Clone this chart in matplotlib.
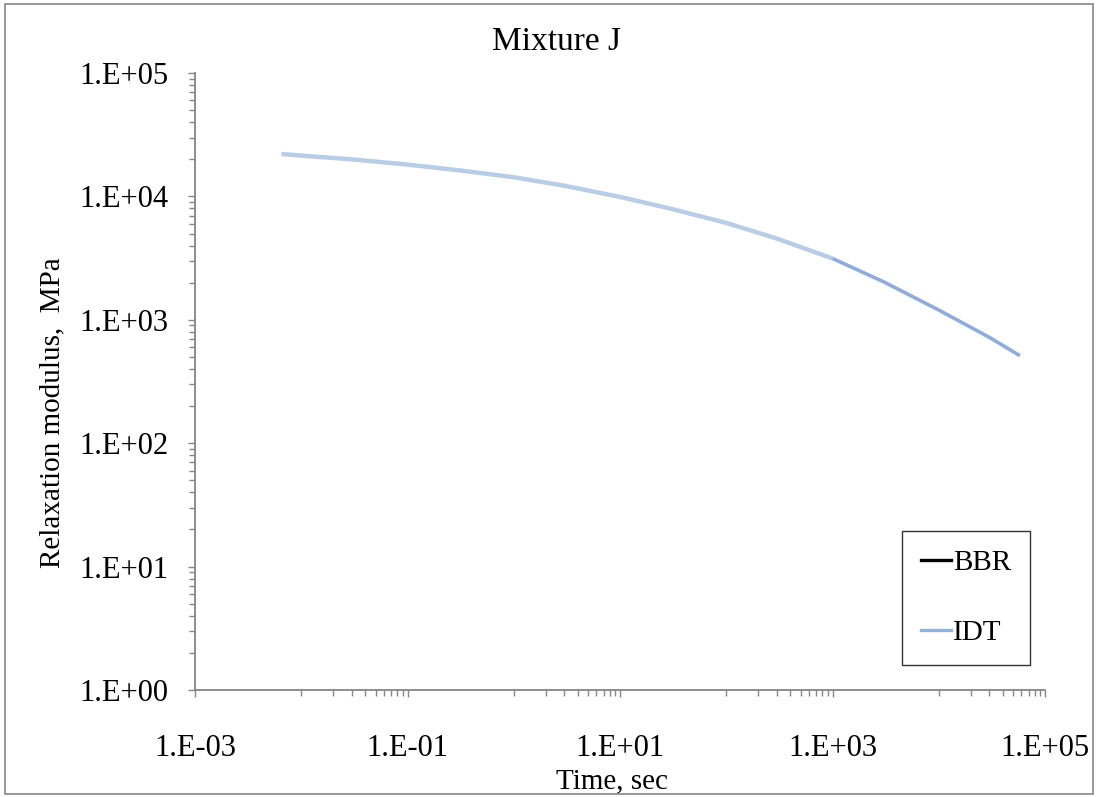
import matplotlib.pyplot as plt
from matplotlib.patches import Rectangle
from matplotlib.ticker import FixedLocator, NullFormatter, FuncFormatter
import numpy as np

# Relaxation modulus master curves, Mixture J
idt_time = [0.0065, 0.01, 0.03, 0.1, 0.3, 1, 3, 10, 30, 100, 300,
            1000, 3000, 10000, 30000, 58000]
idt_modulus = [22100, 21400, 19950, 18100, 16300, 14300, 12200, 9900,
               7950, 6100, 4550, 3140, 2040, 1200, 720, 512]

# BBR range overlaps the long-time end of the IDT curve
bbr_start = 1000

x_labels = [1e-3, 1e-1, 1e1, 1e3, 1e5]
y_labels = [1e0, 1e1, 1e2, 1e3, 1e4, 1e5]

plt.rcParams['font.family'] = ['Liberation Serif', 'DejaVu Serif']

fig = plt.figure(figsize=(10.98, 7.97), dpi=100)
ax = fig.add_axes([195 / 1098, 1 - 690 / 797, 850 / 1098, 617 / 797])

t = np.array(idt_time)
e = np.array(idt_modulus)
light = t <= bbr_start
dark = t >= bbr_start
ax.plot(t[light], e[light], color='#B9CDE5', lw=3.2, solid_capstyle='butt')
ax.plot(t[dark], e[dark], color='#8FADD8', lw=2.6, solid_capstyle='butt')

# legend handles
ax.plot([], [], color='black', lw=2.4, label='BBR')
ax.plot([], [], color='#95B3D7', lw=2.4, label='IDT')

ax.set_xscale('log')
ax.set_yscale('log')
ax.set_xlim(1e-3, 1e5)
ax.set_ylim(1e0, 1e5)

ax.xaxis.set_major_locator(FixedLocator(x_labels))
x_minor = [k * 10.0 ** p for p in (-2, 0, 2, 4) for k in range(1, 10)]
ax.xaxis.set_minor_locator(FixedLocator(x_minor))
ax.yaxis.set_major_locator(FixedLocator(y_labels))
y_minor = [k * 10.0 ** p for p in range(0, 5) for k in range(2, 10)]
ax.yaxis.set_minor_locator(FixedLocator(y_minor))

fmt = FuncFormatter(lambda v, pos: '1.E{:+03d}'.format(int(round(np.log10(v)))))
ax.xaxis.set_major_formatter(fmt)
ax.yaxis.set_major_formatter(fmt)
ax.xaxis.set_minor_formatter(NullFormatter())
ax.yaxis.set_minor_formatter(NullFormatter())

for side in ('top', 'right'):
    ax.spines[side].set_visible(False)
for side in ('left', 'bottom'):
    ax.spines[side].set_color('#868686')
    ax.spines[side].set_linewidth(1.3)

ax.tick_params(which='both', direction='out', color='#868686', width=1.0)
ax.tick_params(which='major', length=5, labelsize=22)
ax.tick_params(which='minor', length=4)
ax.tick_params(axis='x', which='major', pad=27)
ax.tick_params(axis='y', which='major', pad=14)

ax.set_xlabel('Time, sec', fontsize=21)
ax.xaxis.set_label_coords(0.49, -0.127)
ax.set_ylabel('Relaxation modulus,  MPa', fontsize=21)
ax.yaxis.set_label_coords(-0.153, 0.449)

fig.text(556 / 1098, 1 - 42 / 797, 'Mixture J', fontsize=24,
         ha='center', va='center')

leg = ax.legend(loc='lower right', bbox_to_anchor=(1030 / 1098, 1 - 665 / 797),
                bbox_transform=fig.transFigure, fontsize=21, frameon=True,
                fancybox=False, handlelength=1.05, handletextpad=0.05,
                labelspacing=1.5, borderpad=0.65, borderaxespad=0)
leg.get_frame().set_edgecolor('black')
leg.get_frame().set_linewidth(1.0)

# chart area border
fig.patches.append(Rectangle((5 / 1098, 3 / 797), 1088 / 1098, 790 / 797,
                             transform=fig.transFigure, fill=False,
                             edgecolor='#868686', lw=1.2))

fig.savefig('out.png', dpi=100)
